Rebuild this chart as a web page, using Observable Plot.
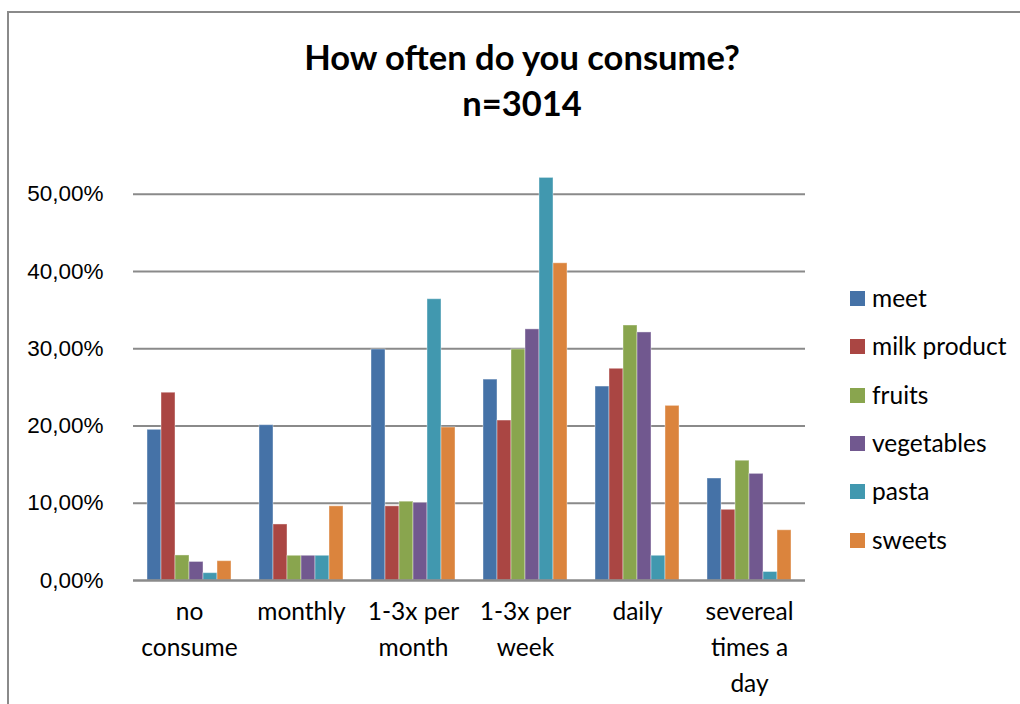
<!DOCTYPE html>
<html><head><meta charset="utf-8">
<script src="https://cdn.jsdelivr.net/npm/d3@7"></script>
<script src="https://cdn.jsdelivr.net/npm/@observablehq/plot@0.6"></script>
<style>
html,body{margin:0;padding:0;background:#fff;}
#wrap{position:relative;width:1020px;height:704px;overflow:hidden;font-family:Lato,"Open Sans",sans-serif;color:#000;}
#border{position:absolute;left:7px;top:11px;width:1100px;height:800px;border:2px solid #8a8a8a;box-sizing:border-box;}
#title{position:absolute;left:0;top:34px;width:1044px;text-align:center;font-weight:bold;font-size:34.5px;line-height:46px;}
#chart{position:absolute;left:0;top:140px;}
#legend{position:absolute;left:850px;top:291px;font-size:24.5px;}
.li{position:absolute;left:0;height:16px;white-space:nowrap;}
.sw{position:absolute;left:0;top:0;width:15px;height:15px;}
.lt{position:absolute;left:22px;top:-8px;line-height:30px;}
</style></head>
<body><div id="wrap"><div id="border"></div><div id="title"></div><div id="chart"></div><div id="legend"></div></div>
<script>
const titleLines = ["How often do you consume?", "n=3014"];
const categories = ["no consume","monthly","1-3x per month","1-3x per week","daily","severeal times a day"];
const categoryLabels = ["no\nconsume","monthly","1-3x per\nmonth","1-3x per\nweek","daily","severeal\ntimes a\nday"];
const series = ["meet","milk product","fruits","vegetables","pasta","sweets"];
const colors = ["#4572A7","#AA4643","#89A54E","#71588F","#4198AF","#DB843D"];
const meet        = [0.195, 0.201, 0.299, 0.260, 0.251, 0.132];
const milkProduct = [0.243, 0.0725,0.096, 0.207, 0.274, 0.0915];
const fruits      = [0.0324,0.032, 0.102, 0.299, 0.330, 0.155];
const vegetables  = [0.024, 0.032, 0.1005,0.325, 0.321, 0.138];
const pasta       = [0.0095,0.032, 0.364, 0.521, 0.032, 0.011];
const sweets      = [0.025, 0.096, 0.198, 0.4105,0.226, 0.065];
const yTicks = [0, 0.1, 0.2, 0.3, 0.4, 0.5];
const yTickLabels = ["0,00%","10,00%","20,00%","30,00%","40,00%","50,00%"];

const seriesValues = [meet, milkProduct, fruits, vegetables, pasta, sweets];
const table = [];
categories.forEach((c, ci) => series.forEach((s, si) => table.push({category: c, series: s, value: seriesValues[si][ci]})));

document.getElementById("title").innerHTML = titleLines.map(t => `<div>${t}</div>`).join("");

const chart = Plot.plot({
  width: 1020, height: 564,
  marginTop: 15, marginBottom: 124, marginLeft: 131, marginRight: 213,
  style: {fontFamily: "Lato, 'Open Sans', sans-serif", fontSize: "24.5px", color: "#000", background: "transparent", overflow: "visible"},
  fx: {domain: categories, padding: 0, label: null},
  x: {domain: series, paddingInner: 0, paddingOuter: 0.755, axis: null},
  y: {domain: [0, 0.55], label: null},
  color: {domain: series, range: colors},
  marks: [
    Plot.ruleY(yTicks.slice(1), {stroke: "#8a8a8a", strokeWidth: 2}),
    Plot.barY(table, {fx: "category", x: "series", y: "value", fill: "series", stroke: "#ffffff", strokeOpacity: 0.4, strokeWidth: 1}),
    Plot.ruleY([0], {stroke: "#8a8a8a", strokeWidth: 2.5}),
    Plot.axisY({ticks: yTicks, tickFormat: d => yTickLabels[yTicks.indexOf(d)], tickSize: 0, tickPadding: 30, line: true, stroke: "#8a8a8a", strokeWidth: 2.5, fill: "#000", fontSize: 22.5, fontFamily: "Liberation Sans", label: null}),
    Plot.axisFx({anchor: "bottom", tickFormat: d => categoryLabels[categories.indexOf(d)], tickSize: 0, tickPadding: 14, lineHeight: 1.47, fontSize: 24.5, fill: "#000", label: null})
  ]
});
document.getElementById("chart").appendChild(chart);

const legend = document.getElementById("legend");
series.forEach((s, i) => {
  const d = document.createElement("div");
  d.className = "li";
  d.style.top = (i * 48.3) + "px";
  d.innerHTML = `<div class="sw" style="background:${colors[i]}"></div><div class="lt">${s}</div>`;
  legend.appendChild(d);
});
</script></body></html>
